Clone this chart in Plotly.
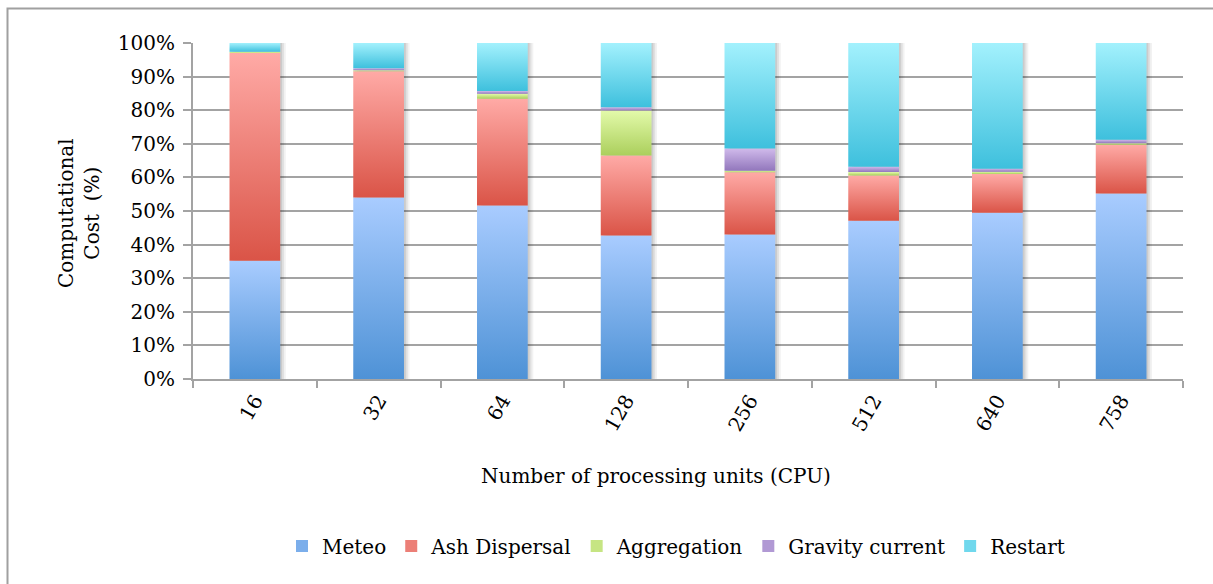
import plotly.graph_objects as go

# Share of computational cost (%) per module for each CPU count
cpus = ["16", "32", "64", "128", "256", "512", "640", "758"]
meteo = [35.2, 54.0, 51.6, 42.7, 43.0, 47.1, 49.5, 55.2]
ash_dispersal = [61.8, 37.6, 31.8, 23.8, 18.5, 13.5, 11.5, 14.5]
aggregation = [0.3, 0.3, 1.5, 13.4, 0.5, 1.0, 0.7, 0.5]
gravity_current = [0.1, 0.6, 0.8, 1.0, 6.6, 1.6, 0.9, 1.0]
restart = [2.6, 7.5, 14.3, 19.1, 31.4, 36.8, 37.4, 28.8]

series = [
    ("Meteo", meteo, "#4E92D6", "#A9CCFF", "#7BAEEB"),
    ("Ash Dispersal", ash_dispersal, "#DA5447", "#FFAAA6", "#EC7F77"),
    ("Aggregation", aggregation, "#ABCF5C", "#E3FAAA", "#C6E583"),
    ("Gravity current", gravity_current, "#9277BC", "#D0BAEB", "#B199D4"),
    ("Restart", restart, "#3EC0DD", "#A3F1FD", "#70D8ED"),
]

FONT = "DejaVu Serif"
FS = 20
GRID = "#A3A3A3"
BAR_W = 0.41

fig = go.Figure()

# soft drop shadow behind each stacked column
for i in range(len(cpus)):
    top = sum(s[1][i] for s in series)
    for k, (dx, alpha) in enumerate([(0.045, 0.05), (0.03, 0.07), (0.015, 0.09)]):
        x0, x1 = i - BAR_W / 2 + dx, i + BAR_W / 2 + dx
        yb = -0.9 * (k + 1) / 3
        fig.add_trace(go.Scatter(
            x=[x0, x1, x1, x0, x0], y=[yb, yb, top, top, yb],
            fill="toself", mode="none", fillcolor=f"rgba(0,0,0,{alpha})",
            showlegend=False, hoverinfo="skip"))

# stacked segments, each filled with its own vertical gradient
base = [0.0] * len(cpus)
for name, vals, dark, light, mid in series:
    for i, v in enumerate(vals):
        y0, y1 = base[i], base[i] + v
        x0, x1 = i - BAR_W / 2, i + BAR_W / 2
        fig.add_trace(go.Scatter(
            x=[x0, x1, x1, x0, x0], y=[y0, y0, y1, y1, y0],
            fill="toself", mode="none",
            fillgradient=dict(type="vertical", colorscale=[[0, dark], [1, light]]),
            name=name, legendgroup=name, showlegend=False,
            hovertemplate=f"{name}<br>{cpus[i]} CPU: {v}%<extra></extra>"))
        base[i] = y1
    # square legend key for the series
    fig.add_trace(go.Bar(x=[None], y=[None], name=name, legendgroup=name,
                         marker=dict(color=mid, line=dict(width=0)),
                         showlegend=True, hoverinfo="skip"))

W, H = 1213, 584
L, R, T, B = 193, 30, 43, 205
pw, ph = W - L - R, H - T - B

fig.update_layout(
    width=W, height=H,
    margin=dict(l=L, r=R, t=T, b=B),
    paper_bgcolor="white", plot_bgcolor="white",
    font=dict(family=FONT, size=FS, color="#000000"),
    showlegend=True,
    legend=dict(orientation="h", xref="container", yref="container",
                x=676 / W, y=1 - 546 / H, xanchor="center", yanchor="middle",
                font=dict(family=FONT, size=FS), itemwidth=30,
                traceorder="normal"),
    xaxis=dict(range=[-0.5, len(cpus) - 0.5], tickmode="array",
               tickvals=list(range(len(cpus))), ticktext=cpus,
               tickangle=-60, ticks="", showgrid=False, zeroline=False,
               showline=True, linecolor=GRID, linewidth=2,
               minor=dict(tickmode="linear", tick0=-0.5, dtick=1, ticks="outside",
                          ticklen=7, tickcolor=GRID, tickwidth=2, showgrid=False),
               tickfont=dict(family=FONT, size=FS), fixedrange=True),
    yaxis=dict(range=[0, 100], tickmode="linear", tick0=0, dtick=10,
               ticksuffix="%", ticks="outside", ticklen=8, tickcolor=GRID,
               tickwidth=2, showgrid=True, gridcolor=GRID, gridwidth=2,
               zeroline=False, showline=True, linecolor=GRID, linewidth=2,
               ticklabelstandoff=4,
               tickfont=dict(family=FONT, size=FS), fixedrange=True),
    annotations=[
        dict(text="Computational<br>Cost  (%)", textangle=-90,
             xref="paper", yref="paper", x=(79 - L) / pw, y=(H - B - 213) / ph,
             xanchor="center", yanchor="middle", showarrow=False,
             font=dict(family=FONT, size=FS)),
        dict(text="Number of processing units (CPU)",
             xref="paper", yref="paper", x=(656 - L) / pw, y=(H - B - 476) / ph,
             xanchor="center", yanchor="middle", showarrow=False,
             font=dict(family=FONT, size=FS)),
    ],
    shapes=[
        # outer chart frame (top and left edges fall inside the page)
        dict(type="rect", xref="paper", yref="paper",
             x0=(7.5 - L) / pw, x1=(W + 20 - L) / pw,
             y0=(H - B - (H + 20)) / ph, y1=(H - B - 8.5) / ph,
             line=dict(color="#A0A0A0", width=2), layer="below"),
    ],
)

fig.write_html("out.html")
